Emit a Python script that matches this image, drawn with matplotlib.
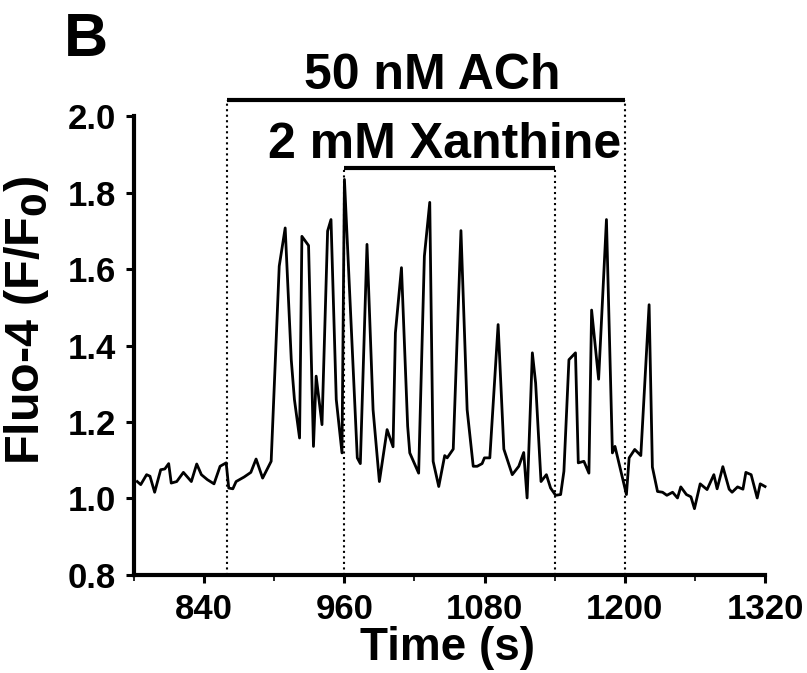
import numpy as np
import matplotlib.pyplot as plt

plt.rcParams['font.family'] = ['Liberation Sans', 'DejaVu Sans']
plt.rcParams['font.weight'] = 'bold'
plt.rcParams['mathtext.default'] = 'bf'

# trace: time (s) and Fluo-4 F/F0
time_s = [782.8, 785.8, 790.8, 793.7, 797.7, 802.9, 806.4, 809.7, 811.9, 816.6,
          822.3, 829.1, 833.7, 837.7, 842.8, 848.5, 853.7, 858.9, 861.1, 864.6,
          867.4, 874.3, 880.0, 884.5, 890.1, 897.4, 904.3, 909.4, 914.6, 917.3,
          921.7, 923.7, 929.4, 933.6, 935.9, 940.9, 945.7, 948.6, 953.1, 958.0,
          960.1, 971.1, 973.7, 979.4, 984.6, 990.0, 996.6, 1001.7, 1003.7, 1008.9,
          1014.2, 1016.0, 1023.6, 1028.5, 1033.1, 1036.0, 1040.8, 1045.9, 1048.0, 1053.2,
          1059.8, 1065.1, 1070.3, 1073.7, 1077.9, 1079.9, 1084.5, 1091.6, 1096.5, 1103.7,
          1109.3, 1113.5, 1116.4, 1120.9, 1123.7, 1128.3, 1132.9, 1136.5, 1140.8, 1145.1,
          1147.9, 1152.2, 1157.8, 1160.2, 1165.0, 1169.3, 1171.6, 1177.6, 1184.3, 1189.4,
          1191.6, 1201.4, 1203.7, 1208.5, 1213.7, 1220.8, 1223.6, 1228.0, 1232.3, 1236.0,
          1240.9, 1245.1, 1247.9, 1252.7, 1256.6, 1259.6, 1264.5, 1270.4, 1276.2, 1279.0,
          1283.9, 1289.3, 1291.8, 1296.5, 1301.1, 1303.6, 1308.1, 1313.3, 1315.9, 1320.0]
fluo = [1.044, 1.036, 1.062, 1.058, 1.016, 1.075, 1.077, 1.091, 1.040, 1.044,
        1.068, 1.044, 1.090, 1.062, 1.049, 1.038, 1.084, 1.093, 1.027, 1.025,
        1.044, 1.056, 1.068, 1.103, 1.053, 1.097, 1.608, 1.708, 1.363, 1.259,
        1.158, 1.686, 1.662, 1.136, 1.320, 1.193, 1.700, 1.730, 1.259, 1.119,
        1.835, 1.106, 1.091, 1.665, 1.232, 1.044, 1.180, 1.135, 1.433, 1.604,
        1.189, 1.119, 1.066, 1.634, 1.775, 1.097, 1.031, 1.112, 1.106, 1.129,
        1.701, 1.232, 1.084, 1.084, 1.091, 1.106, 1.106, 1.455, 1.129, 1.062,
        1.084, 1.120, 1.001, 1.381, 1.302, 1.044, 1.062, 1.027, 1.008, 1.010,
        1.071, 1.363, 1.381, 1.093, 1.097, 1.066, 1.493, 1.312, 1.730, 1.119,
        1.136, 1.010, 1.106, 1.128, 1.112, 1.507, 1.082, 1.018, 1.016, 1.008,
        1.016, 1.001, 1.030, 1.010, 1.004, 0.973, 1.038, 1.023, 1.062, 1.025,
        1.083, 1.024, 1.016, 1.030, 1.024, 1.068, 1.062, 1.001, 1.038, 1.031]

ach_on, ach_off = 860, 1200
xan_on, xan_off = 960, 1140
x_ticks = [840, 960, 1080, 1200, 1320]
x_minor = [780, 900, 1020, 1140, 1260]
y_ticks = [0.8, 1.0, 1.2, 1.4, 1.6, 1.8, 2.0]

fig = plt.figure(figsize=(8.07, 6.73), dpi=100)
ax = fig.add_axes([0.166, 0.146, 0.782, 0.681])

ax.plot(time_s, fluo, color='black', lw=2.0, clip_on=False)

# application bars and dotted markers
ach_y, xan_y = 2.042, 1.864
for t in (ach_on, ach_off):
    ax.plot([t, t], [0.8, ach_y], ls=':', color='black', lw=1.5, clip_on=False)
for t in (xan_on, xan_off):
    ax.plot([t, t], [0.8, xan_y], ls=':', color='black', lw=1.5, clip_on=False)
ax.plot([ach_on, ach_off], [ach_y, ach_y], color='black', lw=3, clip_on=False,
        solid_capstyle='butt')
ax.plot([xan_on, xan_off], [xan_y, xan_y], color='black', lw=3, clip_on=False,
        solid_capstyle='butt')
ax.text(1035, 2.107, '50 nM ACh', ha='center', va='center', fontsize=36,
        fontweight='bold')
ax.text(1046, 1.926, '2 mM Xanthine', ha='center', va='center', fontsize=36,
        fontweight='bold')

ax.set_xlim(780, 1320)
ax.set_ylim(0.8, 2.0)
ax.set_xticks(x_ticks)
ax.set_xticks(x_minor, minor=True)
ax.set_yticks(y_ticks)
ax.set_yticklabels([f'{v:.1f}' for v in y_ticks])

for side in ('top', 'right'):
    ax.spines[side].set_visible(False)
for side in ('left', 'bottom'):
    ax.spines[side].set_linewidth(3)

ax.tick_params(axis='both', which='major', length=6, width=2.2, labelsize=25, pad=7)
ax.tick_params(axis='x', which='minor', length=4, width=1.2)

ax.set_xlabel('Time (s)', fontsize=33, fontweight='bold', va='center')
ax.set_ylabel('Fluo-4 (F/F$_0$)', fontsize=35, fontweight='bold', va='center')
ax.xaxis.set_label_coords(0.497, -0.159)
ax.yaxis.set_label_coords(-0.17, 0.556)

fig.text(64 / 807, 1 - 56 / 673, 'B', fontsize=44, fontweight='bold',
         ha='left', va='baseline')

fig.savefig('out.png', dpi=100)
